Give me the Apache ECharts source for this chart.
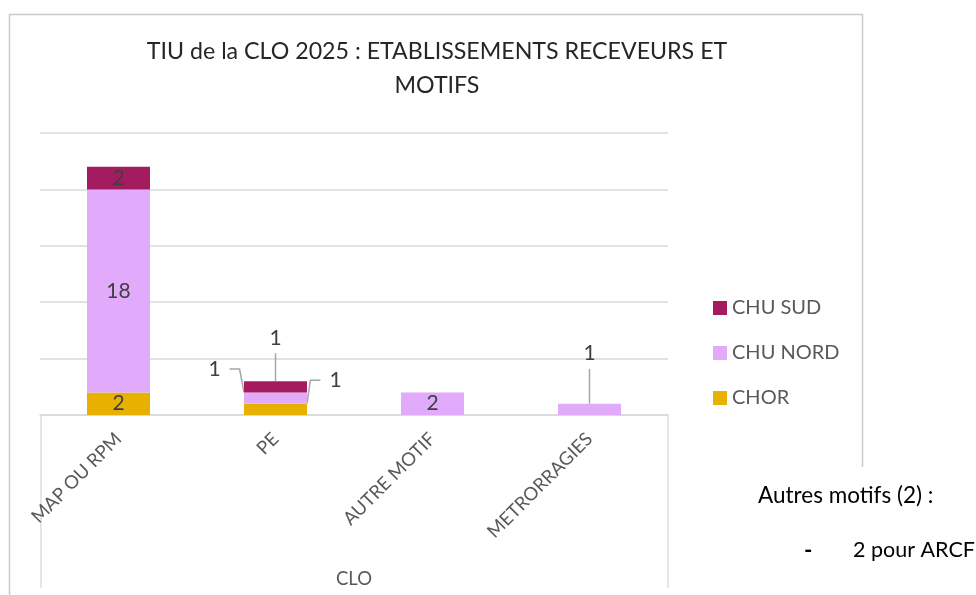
<!DOCTYPE html>
<html>
<head>
<meta charset="utf-8">
<script src="https://cdn.jsdelivr.net/npm/echarts@6/dist/echarts.min.js"></script>
<style>
  html, body { margin: 0; padding: 0; background: #fff; }
  #chart { width: 976px; height: 595px; }
</style>
</head>
<body>
<div id="chart"></div>
<script>
// Categories (motifs) and counts per receiving hospital
const categories = ['MAP OU RPM', 'PE', 'AUTRE MOTIF', 'METRORRAGIES'];
const chorValues = [2, 1, 0, 0];
const chuNordValues = [18, 1, 2, 1];
const chuSudValues = [2, 1, 0, 0];
const legendOrder = ['CHU SUD', 'CHU NORD', 'CHOR'];
const noteLines = ['Autres motifs (2) :', '2 pour ARCF'];

const FONT = 'Lato';
const colors = { 'CHOR': '#E8B000', 'CHU NORD': '#E1AAFB', 'CHU SUD': '#A51B5F' };

// Small segments get their label pulled out of the bar with a leader line
const callouts = {
  'CHU SUD|PE': { dx: 0, dy: -49 },
  'CHU NORD|PE': { dx: -61, dy: -29 },
  'CHOR|PE': { dx: 60, dy: -29 },
  'CHU NORD|METRORRAGIES': { dx: 0, dy: -56 }
};

function buildData(name, values) {
  return values.map((v, i) => {
    if (!callouts[name + '|' + categories[i]]) return v;
    return {
      value: v,
      // transparent box so the leader line stops short of the text
      label: { padding: [5, 9, 5, 9], backgroundColor: 'rgba(255,255,255,0)' },
      labelLine: { show: true, length2: 10, lineStyle: { color: '#a6a6a6', width: 1.5 } }
    };
  });
}

function makeSeries(name, values) {
  return {
    name: name,
    type: 'bar',
    stack: 'total',
    barWidth: 63,
    itemStyle: { color: colors[name] },
    label: {
      show: true,
      position: 'inside',
      color: '#404040',
      fontFamily: FONT,
      fontSize: 21,
      formatter: p => (p.value ? String(p.value) : '')
    },
    labelLayout: params => {
      const c = callouts[name + '|' + categories[params.dataIndex]];
      return c ? { dx: c.dx, dy: c.dy } : {};
    },
    data: buildData(name, values)
  };
}

const chart = echarts.init(document.getElementById('chart'));
chart.setOption({
  animation: false,
  backgroundColor: '#fff',
  title: {
    text: 'TIU de la CLO 2025 : ETABLISSEMENTS RECEVEURS ET\nMOTIFS',
    left: 432,
    top: 30,
    textAlign: 'center',
    textStyle: { fontFamily: FONT, fontSize: 23.2, fontWeight: 'normal', color: '#262626', lineHeight: 34 }
  },
  legend: {
    orient: 'vertical',
    left: 708,
    top: 291,
    icon: 'rect',
    itemWidth: 14,
    itemHeight: 14,
    itemGap: 21,
    data: legendOrder,
    textStyle: { fontFamily: FONT, fontSize: 20, color: '#595959', lineHeight: 24 }
  },
  grid: { left: 40, right: 308, top: 133, bottom: 180, outerBoundsMode: 'none' },
  xAxis: {
    type: 'category',
    data: categories,
    name: 'CLO',
    nameLocation: 'middle',
    nameGap: 155,
    nameTextStyle: { fontFamily: FONT, fontSize: 18.5, color: '#595959' },
    axisLine: { lineStyle: { color: '#d9d9d9', width: 1.5 } },
    axisTick: { show: false },
    axisLabel: { rotate: 45, margin: 21, interval: 0, fontFamily: FONT, fontSize: 18.5, color: '#595959' }
  },
  yAxis: {
    type: 'value',
    min: 0,
    max: 25,
    interval: 5,
    axisLabel: { show: false },
    axisLine: { show: false },
    axisTick: { show: false },
    splitLine: { lineStyle: { color: '#d9d9d9', width: 1.5 } }
  },
  series: [
    makeSeries('CHOR', chorValues),
    makeSeries('CHU NORD', chuNordValues),
    makeSeries('CHU SUD', chuSudValues)
  ],
  graphic: [
    { type: 'rect', silent: true, shape: { x: 9.5, y: 14.5, width: 853, height: 620 },
      style: { fill: 'none', stroke: '#c9c9c9', lineWidth: 1.5 } },
    { type: 'line', silent: true, shape: { x1: 41, y1: 415, x2: 41, y2: 588 },
      style: { stroke: '#dedede', lineWidth: 1.5 } },
    { type: 'line', silent: true, shape: { x1: 668, y1: 415, x2: 668, y2: 588 },
      style: { stroke: '#dedede', lineWidth: 1.5 } },
    { type: 'rect', silent: true, shape: { x: 745, y: 467, width: 231, height: 128 },
      style: { fill: '#fff' } },
    { type: 'text', silent: true, left: 758, top: 484,
      style: { text: noteLines[0], fontFamily: FONT, fontSize: 22.5, fill: '#000' } },
    { type: 'text', silent: true, left: 804, top: 539,
      style: { text: '-', fontFamily: FONT, fontSize: 22.5, fontWeight: 'bold', fill: '#000' } },
    { type: 'text', silent: true, left: 853, top: 539,
      style: { text: noteLines[1], fontFamily: FONT, fontSize: 21.5, fill: '#000' } }
  ]
});
</script>
</body>
</html>
